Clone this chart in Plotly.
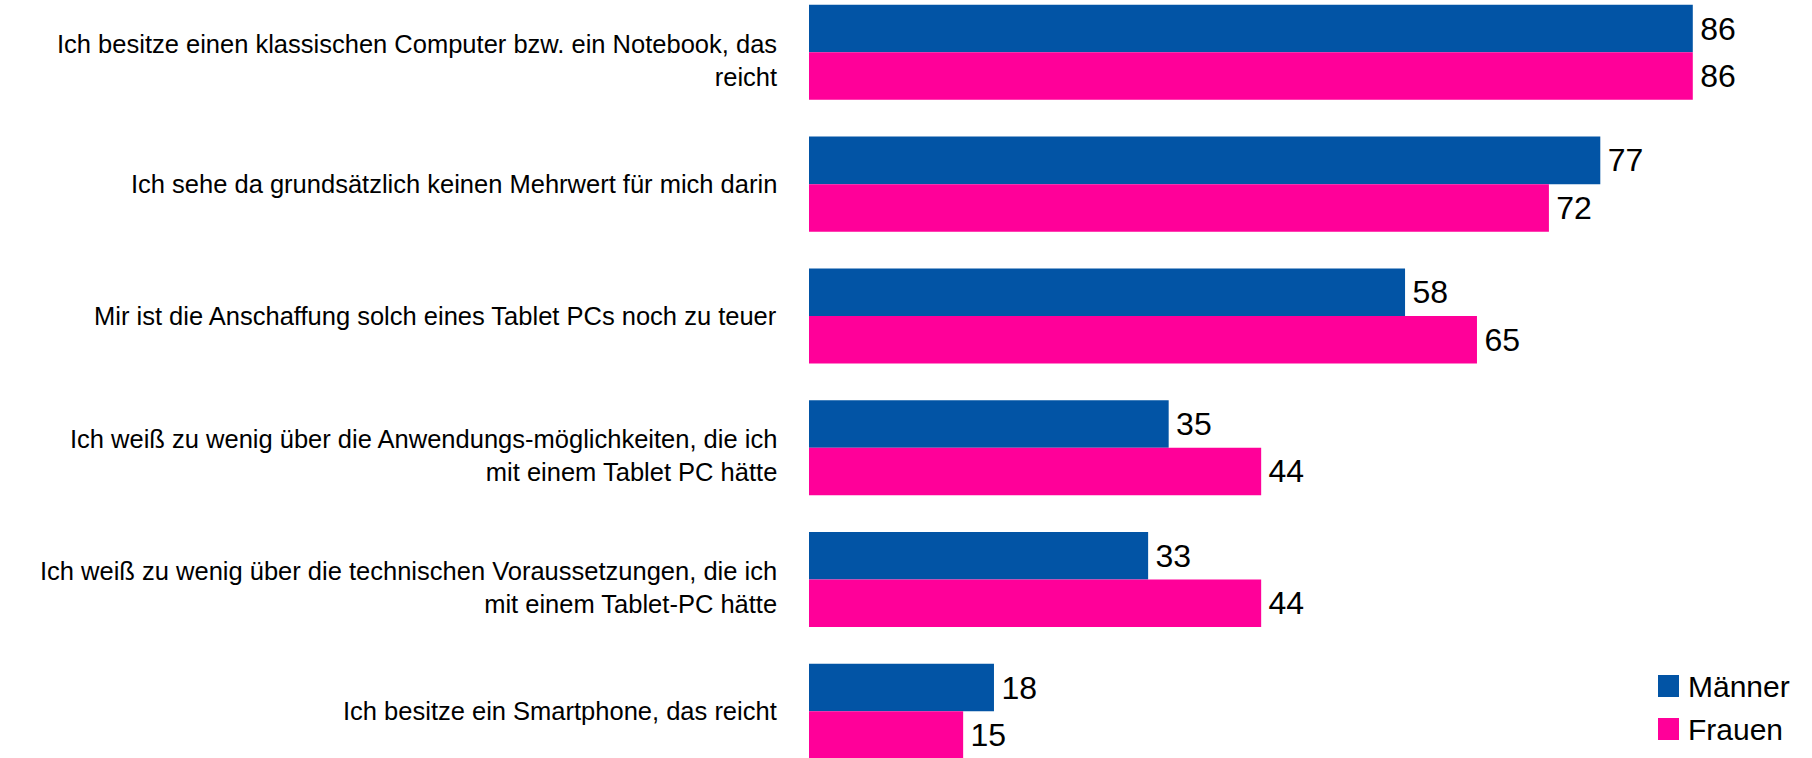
import plotly.graph_objects as go

# Daten
kategorien = [
    "Ich besitze einen klassischen Computer bzw. ein Notebook, das<br>reicht",
    "Ich sehe da grundsätzlich keinen Mehrwert für mich darin",
    "Mir ist die Anschaffung solch eines Tablet PCs noch zu teuer",
    "Ich weiß zu wenig über die Anwendungs-möglichkeiten, die ich<br>mit einem Tablet PC hätte",
    "Ich weiß zu wenig über die technischen Voraussetzungen, die ich<br>mit einem Tablet-PC hätte",
    "Ich besitze ein Smartphone, das reicht",
]
maenner = [86, 77, 58, 35, 33, 18]
frauen = [86, 72, 65, 44, 44, 15]
serien = ["Männer", "Frauen"]
farben = ["#0254A5", "#FF0099"]

W, H = 1812, 758
links = 809  # Beginn der Balken in Pixeln

fig = go.Figure()
for name, werte, farbe in zip(serien, [maenner, frauen], farben):
    fig.add_bar(y=kategorien, x=werte, orientation="h", name=name,
                marker=dict(color=farbe, line=dict(width=0)),
                text=werte, textposition="outside", constraintext="none",
                # kleiner Abstand vor der Zahl wie im Original
                texttemplate="<span style='font-size:22px'>\u2009</span>%{x}",
                textfont=dict(size=32, color="black"), cliponaxis=False,
                showlegend=False)

fig.update_layout(
    width=W, height=H,
    margin=dict(l=links, r=0, t=0, b=0, pad=0, autoexpand=False),
    paper_bgcolor="white", plot_bgcolor="white",
    barmode="group", bargap=0.279, bargroupgap=0,
    font=dict(family="Arial, Liberation Sans, sans-serif", color="black"),
)

fig.update_xaxes(range=[0, 97.6], visible=False, automargin=False)
fig.update_yaxes(categoryorder="array", categoryarray=kategorien,
                 range=[5.354, -0.397], showgrid=False, zeroline=False,
                 showline=False, ticks="", showticklabels=False, automargin=False)

def px(x):
    return (x - links) / (W - links)

def py(y):
    return 1 - y / H

# Kategorienbeschriftung als Annotationen (zweizeilige etwas tiefer, wie im Original)
for kat in kategorien:
    zweizeilig = "<br>" in kat
    fig.add_annotation(xref="paper", yref="y", x=px(779), y=kat, text=kat,
                       showarrow=False, xanchor="right", yanchor="middle", align="right",
                       yshift=-8 if zweizeilig else 0,
                       font=dict(size=25.5, color="black"))

# Legende von Hand (größere Quadrate als bei Plotly)
for i, (name, farbe) in enumerate(zip(serien, farben)):
    y0 = 675 + i * 43
    fig.add_shape(type="rect", xref="paper", yref="paper",
                  x0=px(1658), x1=px(1679), y0=py(y0), y1=py(y0 + 22),
                  fillcolor=farbe, line=dict(width=0))
    fig.add_annotation(xref="paper", yref="paper", x=px(1686), y=py(y0 + 11),
                       text=name, showarrow=False, xanchor="left", yanchor="middle",
                       font=dict(size=30, color="black"))

fig.write_html("out.html", config={"displayModeBar": False})

# Standardrand des Browsers entfernen, damit die Grafik bei (0,0) beginnt
with open("out.html", encoding="utf-8") as f:
    html = f.read()
html = html.replace("<body>", '<body style="margin:0;overflow:hidden">', 1)
with open("out.html", "w", encoding="utf-8") as f:
    f.write(html)
